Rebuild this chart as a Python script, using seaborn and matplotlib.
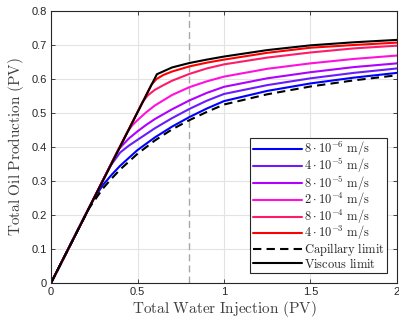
import numpy as np
import pandas as pd
import matplotlib
matplotlib.use("Agg")
import matplotlib.pyplot as plt
import seaborn as sns

# ---- data ----
labels = [r"$8\cdot10^{-6}\ \mathrm{m/s}$", r"$4\cdot10^{-5}\ \mathrm{m/s}$",
          r"$8\cdot10^{-5}\ \mathrm{m/s}$", r"$2\cdot10^{-4}\ \mathrm{m/s}$",
          r"$8\cdot10^{-4}\ \mathrm{m/s}$", r"$4\cdot10^{-3}\ \mathrm{m/s}$"]
colors = ["#0000ff", "#6a1cff", "#b000ff", "#ff10dd", "#ff1a6a", "#ff0000"]

x_blue = [0, 0.25, 0.3, 0.35, 0.4, 0.5, 0.6, 0.7, 0.8, 0.9, 1.0, 1.25, 1.5, 1.75, 2.0]
y_blue = [0, 0.25, 0.288, 0.318, 0.345, 0.391, 0.428, 0.46, 0.488, 0.513, 0.535, 0.565, 0.587, 0.604, 0.618]
x_violet = [0, 0.34, 0.4, 0.45, 0.5, 0.6, 0.7, 0.8, 0.9, 1.0, 1.25, 1.5, 1.75, 2.0]
y_violet = [0, 0.342, 0.384, 0.404, 0.421, 0.455, 0.485, 0.512, 0.536, 0.556, 0.582, 0.602, 0.618, 0.631]
x_purple = [0, 0.39, 0.45, 0.5, 0.55, 0.6, 0.7, 0.8, 0.9, 1.0, 1.25, 1.5, 1.75, 2.0]
y_purple = [0, 0.393, 0.425, 0.446, 0.465, 0.482, 0.511, 0.537, 0.559, 0.577, 0.602, 0.620, 0.635, 0.646]
x_magenta = [0, 0.44, 0.47, 0.5, 0.55, 0.6, 0.7, 0.8, 0.9, 1.0, 1.25, 1.5, 1.75, 2.0]
y_magenta = [0, 0.443, 0.464, 0.479, 0.502, 0.522, 0.553, 0.576, 0.593, 0.607, 0.630, 0.646, 0.659, 0.669]
x_pink = [0, 0.53, 0.56, 0.6, 0.65, 0.7, 0.8, 0.9, 1.0, 1.25, 1.5, 1.75, 2.0]
y_pink = [0, 0.533, 0.552, 0.568, 0.582, 0.595, 0.615, 0.631, 0.643, 0.663, 0.678, 0.690, 0.698]
x_red = [0, 0.58, 0.61, 0.65, 0.7, 0.8, 0.9, 1.0, 1.25, 1.5, 1.75, 2.0]
y_red = [0, 0.583, 0.600, 0.612, 0.622, 0.637, 0.648, 0.657, 0.677, 0.692, 0.700, 0.707]
x_cap = [0, 0.22, 0.3, 0.35, 0.4, 0.5, 0.6, 0.7, 0.8, 0.9, 1.0, 1.25, 1.5, 1.75, 2.0]
y_cap = [0, 0.22, 0.278, 0.307, 0.334, 0.38, 0.419, 0.452, 0.479, 0.503, 0.525, 0.555, 0.578, 0.596, 0.611]
x_visc = [0, 0.612, 0.7, 0.8, 0.9, 1.0, 1.25, 1.5, 1.75, 2.0]
y_visc = [0, 0.614, 0.634, 0.647, 0.657, 0.666, 0.685, 0.699, 0.708, 0.715]

series_x = [x_blue, x_violet, x_purple, x_magenta, x_pink, x_red]
series_y = [y_blue, y_violet, y_purple, y_magenta, y_pink, y_red]

x_ticks = [0, 0.5, 1, 1.5, 2]
x_ticklabels = ["0", "0.5", "1", "1.5", "2"]
y_ticks = [0, 0.1, 0.2, 0.3, 0.4, 0.5, 0.6, 0.7, 0.8]
y_ticklabels = ["0", "0.1", "0.2", "0.3", "0.4", "0.5", "0.6", "0.7", "0.8"]
marker_x = 0.8

# ---- style ----
sns.set_theme(style="whitegrid")
plt.rcParams["font.family"] = ["Liberation Sans", "DejaVu Sans"]
plt.rcParams["mathtext.fontset"] = "cm"

fig = plt.figure(figsize=(3.99, 3.20), dpi=100)
ax = fig.add_axes([51/399, 37/320, 346/399, 272/320])

for xs, ys, c, lab in zip(series_x, series_y, colors, labels):
    sns.lineplot(x=xs, y=ys, color=c, lw=1.5, ax=ax, label=lab, sort=False)
sns.lineplot(x=x_cap, y=y_cap, color="black", lw=1.5, ls=(0, (4, 2.5)), ax=ax,
             label=r"$\mathrm{Capillary\ limit}$", sort=False)
sns.lineplot(x=x_visc, y=y_visc, color="black", lw=1.5, ax=ax,
             label=r"$\mathrm{Viscous\ limit}$", sort=False)

ax.axvline(marker_x, color="#a8a8a8", lw=1.0, ls=(0, (5, 3)), zorder=1.5)

ax.set_xlim(0, 2)
ax.set_ylim(0, 0.8)
ax.set_xticks(x_ticks)
ax.set_xticklabels(x_ticklabels)
ax.set_yticks(y_ticks)
ax.set_yticklabels(y_ticklabels)
ax.grid(True, color="#e3e3e3", lw=0.8)
ax.set_facecolor("white")
for s in ax.spines.values():
    s.set_color("#262626")
    s.set_linewidth(0.8)
ax.tick_params(direction="in", length=3, width=0.6, colors="#262626",
               labelsize=8, top=True, right=True, pad=3,
               bottom=True, left=True)

ax.set_xlabel(r"$\mathrm{Total\ Water\ Injection\ (PV)}$", fontsize=11,
              color="#404040", labelpad=1)
ax.set_ylabel(r"$\mathrm{Total\ Oil\ Production\ (PV)}$", fontsize=11,
              color="#404040", labelpad=4)

leg = ax.legend(loc="lower right", fontsize=9, frameon=True, fancybox=False,
                edgecolor="#262626", framealpha=1, borderpad=0.2,
                labelspacing=-0.12, handlelength=3.9, handletextpad=0.15,
                borderaxespad=0.8)
leg.get_frame().set_linewidth(0.8)

fig.savefig("out.png", dpi=100)
